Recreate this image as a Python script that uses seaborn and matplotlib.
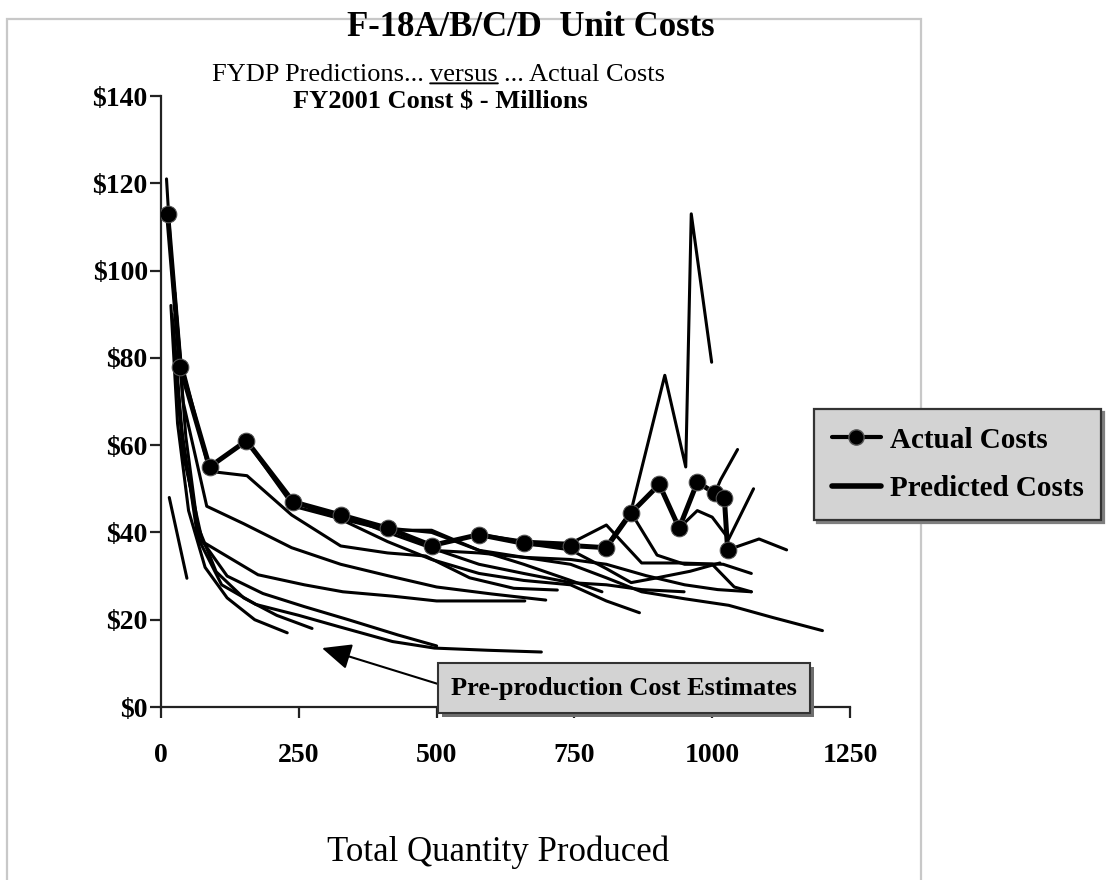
import numpy as np
import pandas as pd
import matplotlib
matplotlib.use("Agg")
import matplotlib.pyplot as plt
import matplotlib.patheffects as pe
from matplotlib.lines import Line2D
from matplotlib.patches import Rectangle
import seaborn as sns


# actual unit costs (FY2001 $M) against cumulative quantity
actual_qty = [12, 35, 88, 155, 240, 326, 411, 491, 577, 658, 743, 808, 853, 904, 940, 973, 1005, 1022, 1028]
actual_cost = [113, 78, 55, 61, 47, 44, 41, 37, 39.5, 37.5, 37, 36.5, 44.5, 51, 41, 51.5, 49, 48, 36]

# pre-production cost estimates (the low curves at the left)
preprod_qty = [
    [15, 47],
    [18, 30, 50, 80, 120, 170, 229],
    [22, 40, 65, 100, 150, 210, 274],
    [25, 45, 70, 110, 172, 250, 320, 420, 496, 593, 690],
    [20, 40, 75, 120, 185, 260, 340, 430, 500],
]
preprod_cost = [
    [48, 29.5],
    [92, 65, 45, 32, 25, 20, 17],
    [88, 60, 42, 31, 25, 21, 18],
    [95, 62, 38, 28, 23.5, 21, 18.5, 15, 13.5, 13, 12.6],
    [90, 58, 38, 30, 26, 23, 20, 16.5, 14],
]

# FYDP predictions made during production
fydp_qty = [
    [10, 20, 40, 83, 150, 237, 326, 411, 500, 600, 698],
    [12, 35, 88, 156, 237, 326, 411, 480, 560, 640, 719],
    [30, 67, 176, 260, 330, 420, 500, 580, 660],
    [155, 240, 330, 411, 491, 577, 658, 743, 800],
    [240, 326, 411, 491, 577, 658, 743, 808, 868],
    [326, 411, 491, 577, 658, 743, 808, 872, 949],
    [411, 491, 577, 658, 743, 808, 880, 950, 1010, 1071],
    [491, 577, 658, 743, 808, 872, 950, 1030, 1110, 1200],
    [577, 658, 743, 808, 872, 940, 1020, 1071],
    [658, 743, 808, 853, 900, 960, 1014],
    [808, 853, 914, 952, 962, 999],
    [940, 973, 1000, 1030, 1075],
    [1005, 1015, 1046],
    [1028, 1085, 1135],
    [853, 900, 950, 1000, 1040, 1071],
]
fydp_cost = [
    [121, 100, 70, 46, 42, 36.5, 32.7, 30.1, 27.5, 25.9, 24.5],
    [113, 80, 54, 53, 44, 36.9, 35.3, 34.6, 29.6, 27.2, 26.8],
    [70, 38.5, 30.3, 28, 26.4, 25.4, 24.3, 24.3, 24.3],
    [61, 46, 43, 40.5, 40.5, 35.9, 32.7, 29, 26.4],
    [47, 43, 37.9, 33.8, 30.6, 29, 28, 24.3, 21.6],
    [44, 40, 36.4, 32.7, 30.6, 28.5, 28, 26.9, 26.4],
    [41, 40, 35.9, 34.3, 33.8, 32.7, 30.1, 28, 26.9, 26.4],
    [35.9, 35.3, 34.3, 32.7, 29.6, 26.4, 24.8, 23.3, 20.5, 17.5],
    [39.5, 38, 37.5, 41.7, 33, 33, 32.7, 30.6],
    [37.5, 36, 31.7, 28.5, 29.6, 31.1, 33],
    [37, 45, 76, 55, 113, 79],
    [41, 45, 43.5, 38.5, 50],
    [49, 52, 59],
    [36, 38.5, 36],
    [44.5, 34.8, 32.7, 32.7, 27.5, 26.4],
]

x_ticks = [0, 250, 500, 750, 1000, 1250]
y_ticks = [0, 20, 40, 60, 80, 100, 120, 140]
y_tick_labels = [r"\$" + str(v) for v in y_ticks]

# long table of every predicted curve
rows = []
for i, (xs, ys) in enumerate(zip(preprod_qty + fydp_qty, preprod_cost + fydp_cost)):
    for x, y in zip(xs, ys):
        rows.append((f"est{i}", x, y))
pred = pd.DataFrame(rows, columns=["estimate", "qty", "cost"])

sns.set_style("ticks")
plt.rcParams["font.family"] = ["Liberation Serif", "DejaVu Serif"]
plt.rcParams["text.color"] = "black"
plt.rcParams["xtick.color"] = "black"
plt.rcParams["ytick.color"] = "black"

W, H = 1108, 880
fig = plt.figure(figsize=(W / 100, H / 100), dpi=100, facecolor="white")
ax = fig.add_axes([161 / W, 1 - 707 / H, (850 - 161) / W, (707 - 96) / H])

sns.lineplot(data=pred, x="qty", y="cost", units="estimate", estimator=None, sort=False,
             color="black", linewidth=2.2, legend=False, ax=ax)
sns.lineplot(x=actual_qty, y=actual_cost, sort=False, color="black", linewidth=3.6,
             marker="o", markersize=12, markeredgecolor="#555555", legend=False, ax=ax, zorder=4)

ax.set_xlim(0, 1250)
ax.set_ylim(0, 140)
ax.set_xticks(x_ticks)
ax.set_yticks(y_ticks)
ax.set_yticklabels(y_tick_labels)
ax.set_xlabel("")
ax.set_ylabel("")
sns.despine(ax=ax)
for s in ["left", "bottom"]:
    ax.spines[s].set_color("#222222")
    ax.spines[s].set_linewidth(1.6)
ax.tick_params(direction="out", length=8, width=1.6, color="#222222", labelcolor="black", labelsize=20)
ax.tick_params(axis="x", pad=18)
ax.tick_params(axis="y", pad=1.5)
for lbl in ax.get_xticklabels() + ax.get_yticklabels():
    lbl.set_fontweight("bold")

# light frame around the whole chart
fig.add_artist(Rectangle((7 / W, -0.02), 914 / W, 1 - 19 / H + 0.02, transform=fig.transFigure,
                         fill=False, edgecolor="#c8c8c8", linewidth=1.6, zorder=-1))

# titles
fig.text(531 / W, 1 - 28 / H, "F-18A/B/C/D  Unit Costs", ha="center", va="center",
         fontsize=25, fontweight="bold")
mid = fig.text(464 / W, 1 - 75 / H, "versus", ha="center", va="center", fontsize=19)
ax.annotate("FYDP Predictions...", xy=(0, 0.5), xycoords=mid, xytext=(-4.75, 0),
            textcoords="offset points", ha="right", va="center", fontsize=19, annotation_clip=False)
ax.annotate("... Actual Costs", xy=(1, 0.5), xycoords=mid, xytext=(4.75, 0),
            textcoords="offset points", ha="left", va="center", fontsize=19, annotation_clip=False)
ax.annotate("", xy=(1, 0.12), xycoords=mid, xytext=(0, 0.12), textcoords=mid,
            arrowprops=dict(arrowstyle="-", lw=1.4, color="black", shrinkA=0, shrinkB=0),
            annotation_clip=False)
fig.text(440 / W, 1 - 102 / H, r"FY2001 Const \$ - Millions", ha="center", va="center",
         fontsize=19, fontweight="bold")
fig.text(498 / W, 1 - 852 / H, "Total Quantity Produced", ha="center", va="center", fontsize=25)

# legend box at the right
handles = [
    Line2D([], [], color="black", lw=3, marker="o", markersize=11, markeredgecolor="#555555"),
    Line2D([], [], color="black", lw=4),
]
leg = ax.legend(handles, ["Actual Costs", "Predicted Costs"], loc="upper left",
                bbox_to_anchor=(814 / W, 1 - 409 / H), bbox_transform=fig.transFigure,
                borderaxespad=0, frameon=True, fancybox=False,
                shadow={"color": "#7f7f7f", "alpha": 1},
                facecolor="#d3d3d3", edgecolor="#333333", framealpha=1,
                prop={"weight": "bold", "size": 21}, handlelength=1.7,
                handletextpad=0.3, borderpad=0.6, labelspacing=0.75)
leg.get_frame().set_linewidth(1.6)

# pre-production callout
ann = ax.annotate("Pre-production Cost Estimates", xy=(292, 13.5), xycoords="data",
                  xytext=(624 / W, 1 - 688 / H), textcoords="figure fraction",
                  ha="center", va="center", fontsize=19, fontweight="bold",
                  bbox=dict(boxstyle="square,pad=0.5", fc="#d3d3d3", ec="#333333", lw=1.5),
                  arrowprops=dict(arrowstyle="-|>,head_length=0.9,head_width=0.4", mutation_scale=20,
                                  color="black", lw=1.5, relpos=(0, 0.5), shrinkA=0, shrinkB=0),
                  annotation_clip=False, zorder=5)
ann.get_bbox_patch().set_path_effects([pe.SimplePatchShadow(offset=(3, -3), shadow_rgbFace="#6e6e6e", alpha=1),
                                       pe.Normal()])

fig.savefig("out.png", dpi=100)
